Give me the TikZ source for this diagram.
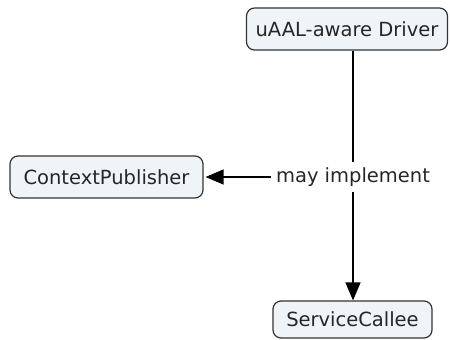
\documentclass[tikz,border=0pt]{standalone}
\usepackage{fontspec}
\setmainfont{DejaVu Sans}
\usetikzlibrary{arrows.meta}
\definecolor{boxfill}{HTML}{EEF4F7}
\definecolor{boxline}{HTML}{333333}

\tikzset{
  concept/.style={draw=boxline, fill=boxfill, line width=1.2pt, rounded corners=8pt,
    inner sep=0pt, font=\fontsize{19.5}{22}\selectfont, text=black!85},
  linklabel/.style={inner sep=5pt, font=\fontsize{19.5}{22}\selectfont, text=black!85},
  link/.style={line width=1.4pt, black}
}

\begin{document}
\begin{tikzpicture}[x=1pt, y=1pt]
\useasboundingbox (0,0) rectangle (450,340);
\node[concept, minimum width=201pt, minimum height=42pt] (driver) at (347,311) {uAAL-aware Driver};
\node[concept, minimum width=193pt, minimum height=42pt] (publisher) at (106.5,163) {ContextPublisher};
\node[concept, minimum width=159pt, minimum height=37pt] (callee) at (352.5,20.5) {ServiceCallee};
\node[linklabel] (mayimpl) at (353,163) {may implement};
% connectors
\draw[link] (driver.south -| mayimpl) -- (mayimpl.north);
\draw[link, -{Triangle[length=18pt, width=15pt]}] (mayimpl.south) -- (mayimpl.south |- callee.north);
\draw[link, -{Triangle[length=18pt, width=15pt]}] (mayimpl.west) -- ([xshift=2pt]publisher.east);
\end{tikzpicture}
\end{document}
